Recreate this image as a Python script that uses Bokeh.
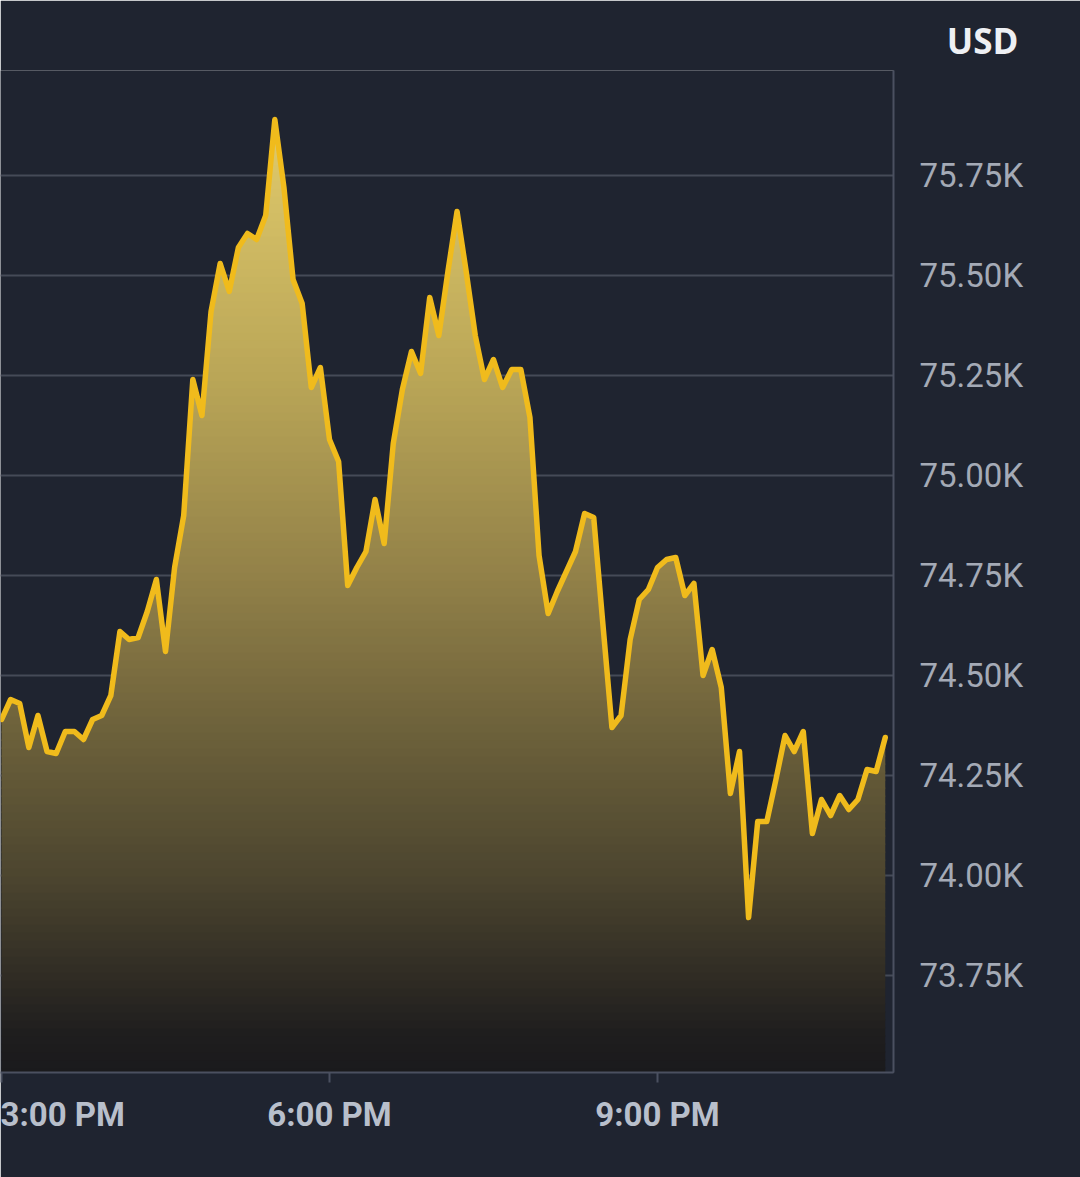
import numpy as np
from bokeh.plotting import figure
from bokeh.models import FixedTicker, PrintfTickFormatter, Range1d
from bokeh.embed import file_html
from bokeh.resources import INLINE

# ---- data ----
times = ["15:00", "15:05", "15:10", "15:15", "15:20", "15:25", "15:30", "15:35", "15:40", "15:45", "15:50", "15:55",
         "16:00", "16:05", "16:10", "16:15", "16:20", "16:25", "16:30", "16:35", "16:40", "16:45", "16:50", "16:55",
         "17:00", "17:05", "17:10", "17:15", "17:20", "17:25", "17:30", "17:35", "17:40", "17:45", "17:50", "17:55",
         "18:00", "18:05", "18:10", "18:15", "18:20", "18:25", "18:30", "18:35", "18:40", "18:45", "18:50", "18:55",
         "19:00", "19:05", "19:10", "19:15", "19:20", "19:25", "19:30", "19:35", "19:40", "19:45", "19:50", "19:55",
         "20:00", "20:05", "20:10", "20:15", "20:20", "20:25", "20:30", "20:35", "20:40", "20:45", "20:50", "20:55",
         "21:00", "21:05", "21:10", "21:15", "21:20", "21:25", "21:30", "21:35", "21:40", "21:45", "21:50", "21:55",
         "22:00", "22:05", "22:10", "22:15", "22:20", "22:25", "22:30", "22:35", "22:40", "22:45", "22:50", "22:55",
         "23:00", "23:05"]

price_k = [74.39, 74.44, 74.43, 74.32, 74.40, 74.31, 74.305, 74.36, 74.36, 74.34, 74.39, 74.40,
           74.45, 74.61, 74.59, 74.595, 74.66, 74.74, 74.56, 74.77, 74.90, 75.24, 75.15, 75.41,
           75.53, 75.46, 75.57, 75.605, 75.59, 75.65, 75.89, 75.72, 75.49, 75.43, 75.22, 75.27,
           75.09, 75.035, 74.725, 74.77, 74.81, 74.94, 74.83, 75.08, 75.215, 75.31, 75.255, 75.445,
           75.35, 75.51, 75.66, 75.51, 75.35, 75.24, 75.29, 75.22, 75.265, 75.265, 75.145, 74.80,
           74.655, 74.71, 74.76, 74.81, 74.905, 74.895, 74.63, 74.37, 74.40, 74.59, 74.69, 74.715,
           74.77, 74.79, 74.795, 74.70, 74.73, 74.50, 74.565, 74.47, 74.205, 74.31, 73.895, 74.135,
           74.135, 74.24, 74.35, 74.31, 74.36, 74.105, 74.19, 74.15, 74.20, 74.165, 74.19, 74.265,
           74.26, 74.345]

x_ticks = [15, 18, 21]
x_tick_labels = ["3:00 PM", "6:00 PM", "9:00 PM"]
y_ticks = [73.75, 74.00, 74.25, 74.50, 74.75, 75.00, 75.25, 75.50, 75.75]
currency = "USD"

# ---- styles ----
BG = "#1f2430"
GRID = "#454a57"
AXIS = "#4b5060"
LINE = "#f0bb1c"
XLAB = "#b8bfcb"
YLAB = "#a4aab6"

hours = np.array([int(t.split(":")[0]) + int(t.split(":")[1]) / 60.0 for t in times])
vals = np.array(price_k)

p = figure(width=1080, height=1177,
           x_range=Range1d(14.9909, 23.1586), y_range=Range1d(73.5075, 76.0125),
           output_backend="svg", toolbar_location=None, y_axis_location="right",
           min_border_left=0, min_border_right=187, min_border_top=70, min_border_bottom=105,
           background_fill_color=BG, border_fill_color=BG, outline_line_color=None,
           title=currency, title_location="above")

p.title.align = "right"
p.title.offset = -125
p.title.text_font = "Open Sans"
p.title.text_font_style = "bold"
p.title.text_font_size = "35px"
p.title.text_color = "#eef0f4"
p.title.standoff = 13

# grid
yticker = FixedTicker(ticks=y_ticks)
p.ygrid.ticker = yticker
p.ygrid.grid_line_color = GRID
p.ygrid.grid_line_width = 2
p.xgrid.visible = False

# axes
p.yaxis.ticker = yticker
p.yaxis.formatter = PrintfTickFormatter(format="%.2fK")
p.yaxis.major_tick_line_color = None
p.yaxis.minor_tick_line_color = None
p.yaxis.major_tick_out = 0
p.yaxis.major_tick_in = 0
p.yaxis.axis_line_color = AXIS
p.yaxis.axis_line_width = 2
p.yaxis.major_label_standoff = 26
p.yaxis.major_label_text_font = "Roboto"
p.yaxis.major_label_text_font_size = "33px"
p.yaxis.major_label_text_color = YLAB

p.xaxis.ticker = FixedTicker(ticks=x_ticks)
p.xaxis.major_label_overrides = {t: l for t, l in zip(x_ticks, x_tick_labels)}
p.xaxis.axis_line_color = AXIS
p.xaxis.axis_line_width = 2
p.xaxis.major_tick_line_color = AXIS
p.xaxis.major_tick_line_width = 2
p.xaxis.major_tick_out = 10
p.xaxis.major_tick_in = 0
p.xaxis.minor_tick_line_color = None
p.xaxis.major_label_standoff = 12
p.xaxis.major_label_text_font = "Roboto"
p.xaxis.major_label_text_font_style = "bold"
p.xaxis.major_label_text_font_size = "33px"
p.xaxis.major_label_text_color = XLAB

# gradient fill under the curve, drawn as horizontal bands
stops_v = [73.45, 73.60, 73.75, 74.00, 74.40, 74.75, 75.25, 75.95]
stops_c = [(24, 24, 27), (30, 29, 30), (48, 44, 36), (76, 69, 47), (112, 100, 60),
           (146, 129, 72), (186, 166, 87), (228, 206, 110)]


def band_color(v):
    r = np.interp(v, stops_v, [c[0] for c in stops_c])
    g = np.interp(v, stops_v, [c[1] for c in stops_c])
    b = np.interp(v, stops_v, [c[2] for c in stops_c])
    return "#%02x%02x%02x" % (int(round(r)), int(round(g)), int(round(b)))


def densify(xs, ys, levels):
    X = [xs[0]]
    Y = [ys[0]]
    for i in range(len(xs) - 1):
        x0, y0, x1, y1 = xs[i], ys[i], xs[i + 1], ys[i + 1]
        ts = []
        for L in levels:
            if (y0 - L) * (y1 - L) < 0:
                ts.append((L - y0) / (y1 - y0))
        for t in sorted(ts):
            X.append(x0 + t * (x1 - x0))
            Y.append(y0 + t * (y1 - y0))
        X.append(x1)
        Y.append(y1)
    return np.array(X), np.array(Y)


step = 0.02
ov = 0.003
lo = 73.44
vmax = vals.max()
while lo < vmax:
    hi = lo + step
    X, Y = densify(hours, vals, [lo - ov, hi])
    p.varea(x=X, y1=np.minimum(Y, lo - ov), y2=np.minimum(Y, hi),
            fill_color=band_color(lo + step / 2), fill_alpha=1.0)
    lo = hi

# price line
p.line(hours, vals, line_color=LINE, line_width=5.5, line_join="round", line_cap="round")

open("out.html", "w").write(file_html(p, INLINE))
